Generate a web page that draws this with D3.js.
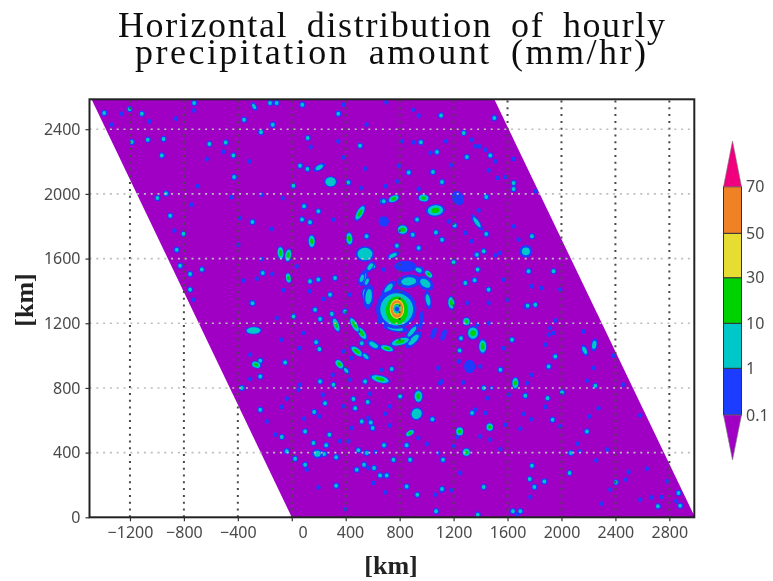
<!DOCTYPE html>
<html><head><meta charset="utf-8">
<script src="https://cdn.jsdelivr.net/npm/d3@7/dist/d3.min.js"></script>
<style>html,body{margin:0;padding:0;background:#fff}svg{display:block}</style>
</head><body><svg id="c" width="773" height="581"></svg>
<script>
const titleLines = ["Horizontal distribution of hourly", "precipitation amount (mm/hr)"];
const axisUnit = "[km]";
const xTicks = [-1200,-800,-400,0,400,800,1200,1600,2000,2400,2800];
const yTicks = [0,400,800,1200,1600,2000,2400];
const gridY = [400,800,1200,1600,2000,2400];
const levels = [0.1,1,10,30,50,70];
const levelLabels = ["0.1","1","10","30","50","70"];
const levelColors = ["#a000c4","#1e3cff","#00c8c8","#00d200","#e6dc32","#f08228","#f0007f"];
// swath outline in km
const swath = [[-1485,2585],[1502,2585],[2990,0],[0,0]];
// weak cells (0.1-1 mm/hr): x km, y km
const blueSpots = [[-1260,2496],[-1058,2448],[-858,2465],[-724,2516],[-1334,2428],[382,2551],[140,2290],[345,2325],[-507,2259],[-630,2216],[-317,2201],[382,2226],[555,2428],[543,2156],[513,2036],[-697,2047],[-223,1995],[-67,1974],[-445,1979],[-742,1933],[-870,1773],[-396,1686],[-383,1851],[-149,1783],[308,1841],[666,1841],[-223,1597],[37,1552],[-359,1464],[-260,1476],[-144,1505],[-62,1404],[135,1398],[234,1350],[432,1377],[-729,1346],
[701,2566],[899,2520],[941,2483],[1336,2335],[1361,2294],[1435,2273],[1509,2201],[818,2325],[904,2319],[1144,2325],[1028,2253],[1391,2294],[1645,2216],[793,2174],[1181,2178],[1460,2145],[941,2030],[694,2047],[780,2077],[1583,2104],[1526,2098],[1810,2016],[1230,1974],[1386,1898],[682,1830],[1163,1830],[1287,1758],[1336,1707],[1645,1799],[1682,1717],[1509,1620],[1546,1635],[1571,1470],[1781,1429],[1850,1418],[1991,1408],[1596,1346],[1460,1326],[1299,1326],[682,1532],[842,1552],
[-111,1232],[87,1139],[-79,1098],[-308,1005],[-308,855],[57,1046],[383,1026],[445,985],[304,881],[667,912],[433,851],[62,820],[50,789],[581,764],[230,758],[1099,830],[1087,923],[-74,682],[-37,733],[205,624],[383,686],[92,610],[-185,593],[568,614],[445,552],[729,686],[692,640],[729,568],[939,490],[-123,511],[358,470],[420,470],[1001,453],[618,404],[1087,397],[111,294],[568,305],[605,212],[198,185],[692,154],[1062,140],[395,51],
[1806,1314],[1954,1217],[1917,1170],[1942,1139],[1905,1129],[1374,1190],[1460,1201],[1880,1067],[2164,1149],[1571,1046],[2386,999],[1238,964],[1398,933],[1744,830],[1781,881],[2238,923],[2189,844],[2456,820],[1114,840],[1270,834],[1485,799],[1608,758],[1448,737],[1880,682],[1361,665],[1435,645],[1720,640],[1774,607],[2206,624],[2275,675],[2584,630],[1584,572],[1225,496],[1991,562],[1695,548],[1398,500],[1472,480],[2120,455],[1201,439],[1547,422],[2139,408],[2337,418],[2258,352],[1250,274],[1184,167],[2478,233],[2498,280],[2633,300],[2782,222],[2362,171],[2584,109],[2670,123],[2745,125],[2851,99],[1670,16],[2300,84],[1769,125]];
// moderate cells (1-10 mm/hr): x km, y km
const cyanSpots = [[-1391,2500],[-1203,2525],[-1112,2496],[-724,2562],[-161,2562],[-112,2562],[78,2551],[-354,2459],[-228,2382],[-141,2428],[345,2496],[-1186,2321],[-1068,2335],[-951,2339],[-964,2238],[-611,2308],[-490,2318],[-433,2238],[-428,2104],[118,2345],[506,2298],[61,2174],[116,2154],[12,2051],[419,2071],[-996,1974],[-932,2003],[-902,1865],[-803,1754],[-853,1655],[-292,1826],[91,1923],[197,1892],[76,1841],[135,1824],[555,1738],[671,1954],[-828,1556],[-754,1505],[-667,1532],[-215,1511],[135,1459],[197,1470],[321,1480],[284,1377],[605,1552],[-297,1326],[-754,1408],
[1107,2485],[1502,2469],[1275,2376],[958,2319],[1077,2259],[1472,2238],[1299,2228],[867,2133],[1047,2135],[1114,2073],[1645,2067],[1645,2030],[682,1954],[1442,1981],[929,1841],[1208,1804],[897,1748],[1069,1762],[1114,1717],[1442,1752],[1781,1738],[780,1680],[941,1665],[1373,1624],[1423,1645],[1200,1577],[1378,1532],[1756,1521],[1941,1521],[1287,1449],[1356,1466],[1460,1408],[1744,1305],[1806,1315],[953,1532],[1015,1346],
[-291,1324],[13,1242],[173,1283],[210,1226],[297,1258],[395,1273],[181,1083],[205,1040],[-234,968],[-234,871],[-49,958],[519,1077],[549,995],[403,908],[741,917],[544,840],[210,840],[309,820],[-370,799],[247,706],[457,731],[563,713],[803,748],[-234,665],[166,651],[470,675],[519,593],[586,587],[600,552],[1043,607],[99,531],[-74,496],[279,511],[161,459],[255,445],[684,445],[852,445],[240,391],[329,371],[494,414],[-37,408],[25,362],[556,397],[754,356],[877,356],[99,325],[536,325],[610,305],[482,294],[655,259],[704,259],[329,195],[852,191],[931,140],[1112,171],[1070,37],
[1749,1308],[1255,1108],[1245,1032],[1633,1098],[2172,1032],[1954,995],[1905,933],[1547,912],[2251,813],[1423,799],[2004,772],[1732,752],[1897,737],[1337,645],[1934,603],[2189,531],[2070,397],[1122,356],[1781,319],[2060,274],[1764,237],[1873,222],[1799,187],[1423,187],[1114,175],[2404,216],[2868,150],[2715,68],[2880,72],[1640,37],[1695,37],[1379,16]];
// larger cells: x km, y km, half length km, half width km, tilt deg, peak mm/hr
const largeCells = [
[-280,2541,30,14,60,5],[204,2164,42,18,-30,5],[288,2075,42,30,0,12],[506,1882,60,20,-60,14],[427,1723,46,20,85,14],[148,1707,46,20,88,14],[-83,1635,46,20,85,14],[-26,1620,46,20,-80,14],[543,1628,60,42,0,12],[530,1480,55,22,-70,8],[-25,1480,36,16,80,14],[555,1367,62,24,80,14],
[756,1970,42,20,-25,14],[978,1974,38,22,5,14],[1232,1974,48,30,60,0.5],[1065,1898,62,34,-5,14],[1373,1824,62,16,55,6],[822,1779,38,28,0,14],[1736,1645,42,34,0,6],[751,1620,42,16,-25,6],[1183,1326,46,20,85,14],[842,1552,72,30,0,0.5],[682,1830,34,28,50,0.5],
[867,1459,78,36,-5,6],[990,1447,60,32,35,6],[940,1529,34,18,30,5],[1015,1504,34,16,45,14],[718,1416,60,22,-50,5],[570,1364,34,68,5,8],[1010,1344,22,50,-10,5],[960,1220,14,50,5,0.5],[891,1148,66,18,-50,6],[903,1097,72,24,-45,7],[805,1086,70,22,-15,14],[706,1045,50,18,15,14],[607,1066,50,20,30,7],[520,1138,52,20,55,14],[465,1190,60,18,60,14],[329,1190,52,18,70,14],[582,1550,40,18,-55,6],[520,1478,40,16,-70,5],[557,1457,34,14,-65,5],[656,1282,22,78,3,6],[768,1169,82,20,10,6],[1126,1127,40,14,-70,0.5],[1052,1138,40,14,-70,0.5],
[482,1026,52,20,40,14],[549,995,34,14,40,6],[353,947,38,20,50,14],[403,908,30,14,50,5],[655,855,70,22,15,14],[-264,943,34,20,20,14],[-284,1155,26,46,88,12],
[939,748,30,36,0,14],[926,640,40,36,30,12],[877,521,34,16,-30,14],[190,393,34,26,0,7],[1344,1139,40,38,0,16],[1295,1211,26,24,0,14],[1416,1057,28,42,0,14],[1245,531,28,26,0,14],[1468,558,26,24,0,14],[1295,402,28,24,0,14],[1658,830,24,34,0,14],[2243,1067,22,36,10,6],[2172,1032,20,34,-25,6],[1319,933,36,36,0,0.5]];
// eyewall contours painted outwards in: x km, y km, x radius km, y radius km, mm/hr
const eyewall = [[775,1288,150,122,0.5],[778,1286,122,100,5],[780,1280,82,86,20],[780,1288,54,62,40],[780,1288,47,54,60],[780,1290,32,37,40],[780,1290,27,31,20],[780,1288,25,27,5],[780,1288,17,16,0.5]];
// x tick labels that sit right of their tick in the reference (value: shift in km)
const xLabelShift = new Map([[0,80],[400,32]]);

const svg = d3.select("#c");
const defs = svg.append("defs");
defs.append("filter").attr("id","soft").attr("x","-5%").attr("y","-5%").attr("width","110%").attr("height","110%")
  .append("feGaussianBlur").attr("stdDeviation",0.7);
const L=89.5,R=694.3,T=99.3,B=517.3;
const x = d3.scaleLinear().domain([-1500,2985]).range([L,R]);
const y = d3.scaleLinear().domain([0,2585]).range([B,T]);
const kx = x(1)-x(0), ky = y(0)-y(1);
const color = d3.scaleThreshold().domain(levels).range(levelColors);
const root = svg.append("g").attr("filter","url(#soft)");

const poly = swath.map(d=>[x(d[0]),y(d[1])].join(",")).join(" ");
defs.append("clipPath").attr("id","sw").append("polygon").attr("points",poly);
root.append("polygon").attr("points",poly).attr("fill",levelColors[0]);
const cells = root.append("g").attr("clip-path","url(#sw)");

function cell(cx,cy,a,b,ang,peak){
  const g = cells.append("g").attr("transform",`translate(${x(cx)},${y(cy)}) rotate(${ang})`);
  const steps=[0.5,5,14,40].filter(s=>s<=peak);
  const shrink = peak>=10 ? [1,0.8,0.42] : [1,0.62];
  steps.forEach((s,i)=>g.append("ellipse").attr("rx",a*kx*(shrink[i]||0.2)).attr("ry",b*ky*(shrink[i]||0.2)).attr("fill",color(s)));
}
blueSpots.forEach(d=>cell(d[0],d[1],16,15,0,0.5));
cyanSpots.forEach(d=>cell(d[0],d[1],22,20,0,5));
largeCells.forEach(d=>cell(d[0],d[1],d[2]*1.15,d[3]*1.15,d[4],d[5]));
cells.selectAll("ellipse.eye").data(eyewall).join("ellipse").attr("class","eye")
  .attr("cx",d=>x(d[0])).attr("cy",d=>y(d[1])).attr("rx",d=>d[2]*kx).attr("ry",d=>d[3]*ky).attr("fill",d=>color(d[4]));

// grid
root.append("g").selectAll("line").data(xTicks).join("line")
  .attr("x1",d=>x(d)).attr("x2",d=>x(d)).attr("y1",B).attr("y2",T)
  .attr("stroke","#4a4a4a").attr("stroke-width",2).attr("stroke-dasharray","2 4.8");
root.append("g").selectAll("line").data(gridY).join("line")
  .attr("y1",d=>y(d)).attr("y2",d=>y(d)).attr("x1",L).attr("x2",R)
  .attr("stroke","#bdbdbd").attr("stroke-width",1.6).attr("stroke-dasharray","2 4.8");

// frame and axes
root.append("rect").attr("x",L).attr("y",T).attr("width",R-L).attr("height",B-T)
  .attr("fill","none").attr("stroke","#222").attr("stroke-width",2);
const ax = root.append("g").attr("transform",`translate(0,${B})`)
  .call(d3.axisBottom(x).tickValues(xTicks).tickSize(4).tickPadding(5).tickFormat(d3.format("d")));
const ay = root.append("g").attr("transform",`translate(${L},0)`)
  .call(d3.axisLeft(y).tickValues(yTicks).tickSize(4).tickPadding(5).tickFormat(d3.format("d")));
ax.selectAll(".tick text").attr("dx",d=>(xLabelShift.get(d)||0)*kx);
[ax,ay].forEach(a=>{a.select(".domain").remove();
  a.selectAll("text").attr("font-family","'Noto Sans',sans-serif").attr("font-size",16).attr("fill","#4a4a4a");
  a.selectAll("line").attr("stroke","#333").attr("stroke-width",1.2);});

// titles
const titleSpec=[{x:391.5,y:37,w:547},{x:390.5,y:64,w:511}];
root.selectAll("text.title").data(titleLines).join("text").attr("class","title")
  .attr("x",(d,i)=>titleSpec[i].x).attr("y",(d,i)=>titleSpec[i].y)
  .attr("text-anchor","middle").attr("font-family","'Liberation Serif',serif").attr("font-size",36)
  .attr("word-spacing",8).attr("fill","#111").attr("textLength",(d,i)=>titleSpec[i].w).attr("lengthAdjust","spacing").text(d=>d);
root.append("text").attr("x",391).attr("y",574).attr("text-anchor","middle")
  .attr("font-family","'Liberation Serif',serif").attr("font-weight","bold").attr("font-size",26).attr("fill","#222").text(axisUnit);
root.append("text").attr("transform","translate(33,300) rotate(-90)").attr("text-anchor","middle")
  .attr("font-family","'Liberation Serif',serif").attr("font-weight","bold").attr("font-size",26).attr("fill","#222").text(axisUnit);

// colour bar: one scale per level index
const bY = d3.scaleLinear().domain([0,1,2,3,4,5]).range([415,368.3,323.3,277.7,233.3,186.7]);
const bL=723.5,bR=741.5,bM=(bL+bR)/2;
const cb = root.append("g");
levels.slice(0,-1).forEach((v,i)=>{
  cb.append("rect").attr("x",bL).attr("width",bR-bL).attr("y",bY(i+1)).attr("height",bY(i)-bY(i+1))
    .attr("fill",levelColors[i+1]).attr("stroke","#333").attr("stroke-width",1);
});
cb.append("polygon").attr("points",[[bL,bY(5)],[bR,bY(5)],[bM,141]].join(" ")).attr("fill",levelColors[6]).attr("stroke","#777").attr("stroke-width",.6);
cb.append("polygon").attr("points",[[bL,bY(0)],[bR,bY(0)],[bM,460]].join(" ")).attr("fill",levelColors[0]).attr("stroke","#777").attr("stroke-width",.6);
cb.selectAll("text").data(levelLabels).join("text").attr("x",746).attr("y",(d,i)=>bY(i)).attr("dy","0.36em")
  .attr("font-family","'Noto Sans',sans-serif").attr("font-size",16).attr("fill","#4a4a4a").text(d=>d);
</script></body></html>
